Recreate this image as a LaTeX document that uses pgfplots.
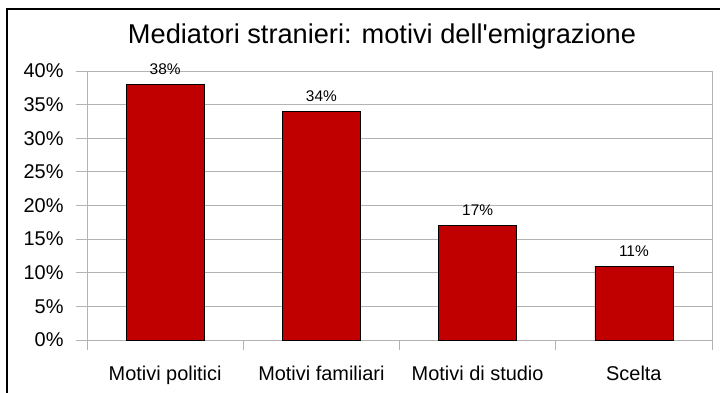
\documentclass[border=0pt]{standalone}
\usepackage{pgfplots}
\pgfplotsset{compat=1.18}
\usepackage{fontspec}
\setmainfont{Liberation Sans}
\definecolor{barred}{RGB}{192,0,0}
\definecolor{gridgray}{RGB}{179,179,179}
\begin{document}
\begin{tikzpicture}[x=1bp,y=1bp]
\useasboundingbox (0,0) rectangle (720,392);
\fill[white] (0,0) rectangle (720,392);
\draw[line width=2bp] (7,-5) -- (7,382.5) -- (725,382.5);
\begin{axis}[
  at={(87bp,52bp)}, anchor=south west,
  scale only axis, width=625bp, height=269bp,
  xmin=-0.5, xmax=3.5, ymin=0, ymax=40,
  ytick={0,5,...,40},
  yticklabel={\pgfmathprintnumber{\tick}\%},
  /pgf/number format/assume math mode=true,
  xtick={0,1,2,3},
  xticklabels={Motivi politici, Motivi familiari, Motivi di studio, Scelta},
  minor xtick={-0.5,0.5,1.5,2.5,3.5},
  ymajorgrids,
  major grid style={gridgray, line width=0.8bp},
  axis line style={gridgray, line width=0.8bp},
  tick style={gridgray, line width=0.8bp},
  major x tick style={draw=none},
  tick align=outside,
  tick pos=left,
  major tick length=11bp,
  minor tick length=10bp,
  tick label style={font=\fontsize{20}{20}\selectfont, text=black},
  yticklabel style={anchor=east, xshift=-9bp},
  xticklabel style={anchor=base, yshift=-29bp},
  ybar, bar width=78bp,
  point meta=y,
  nodes near coords={\pgfmathprintnumber{\pgfplotspointmeta}\%},
  nodes near coords style={anchor=base, yshift=10bp, inner sep=0pt, font=\fontsize{15.5}{15.5}\selectfont, text=black},
]
\addplot[fill=barred, draw=black, line width=0.6bp] coordinates {(0,38) (1,34) (2,17) (3,11)};
\end{axis}
\node[font=\fontsize{27.3}{27.3}\selectfont, anchor=base] at (382,349) {Mediatori stranieri: motivi dell\textquotesingle emigrazione};
\end{tikzpicture}
\end{document}
